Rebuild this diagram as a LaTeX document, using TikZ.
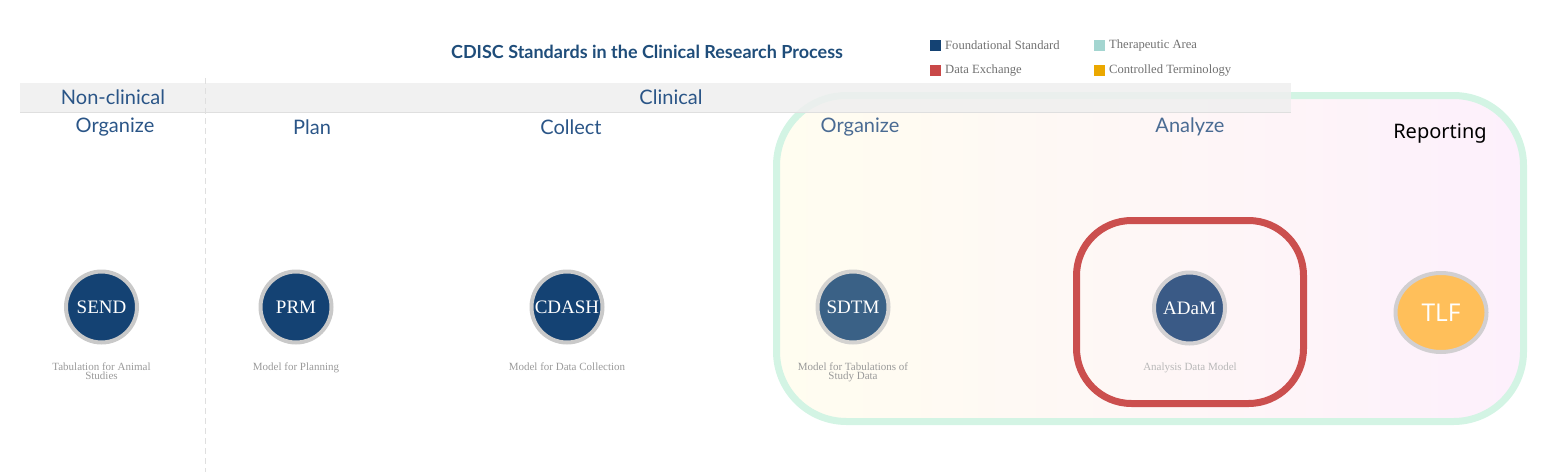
\documentclass[tikz,border=0pt]{standalone}
\usepackage{fontspec}
\setmainfont{Liberation Serif}
\newfontfamily\latofont{Lato}
\newfontfamily\notofont{Noto Sans}
\newfontfamily\opensansfont{Open Sans}
\usetikzlibrary{shapes.geometric}
\definecolor{titleblue}{HTML}{1F4D7A}
\definecolor{phaseblue}{HTML}{2A5587}
\definecolor{phaseblueL}{HTML}{4A6B93}
\definecolor{fblue}{HTML}{144273}
\definecolor{tealc}{HTML}{A3D5D0}
\definecolor{redc}{HTML}{C94848}
\definecolor{orangec}{HTML}{EBA800}
\definecolor{bandgray}{HTML}{EFEFEF}
\definecolor{mintc}{HTML}{D3F4E4}
\definecolor{redbox}{HTML}{CB4F4E}
\definecolor{ringgray}{HTML}{C9C9C9}
\definecolor{descgray}{HTML}{9A9A9A}
\definecolor{legendgray}{HTML}{707070}
\definecolor{sdtmblue}{HTML}{3A6186}
\definecolor{adamblue}{HTML}{3A5A86}
\definecolor{tlforange}{HTML}{FFBF5A}
\definecolor{yellowish}{HTML}{FFFDF0}
\definecolor{pinkish}{HTML}{FDF0FC}
\begin{document}
\begin{tikzpicture}[x=1pt,y=-1pt,
  stdcircle/.style={circle,draw=ringgray,line width=4pt,minimum size=71pt,inner sep=0pt,
    text=white,font=\fontsize{19}{22}\selectfont},
  desc/.style={align=center,text=descgray,font=\fontsize{11}{9}\selectfont},
  phase/.style={text=phaseblue,font=\latofont\fontsize{20}{24}\selectfont},
  legsq/.style={minimum size=12pt,inner sep=0pt,draw=white,line width=0.5pt},
  legtxt/.style={anchor=west,text=legendgray,font=\fontsize{12.6}{14}\selectfont,inner sep=0pt}
]
\useasboundingbox (0,0) rectangle (1544,472);
% reporting area
\path[left color=yellowish,right color=pinkish,rounded corners=70pt]
  (776.5,95.5) rectangle (1523.5,421.5);
\draw[mintc,line width=7pt,rounded corners=70pt] (776.5,95.5) rectangle (1523.5,421.5);
% band
\fill[bandgray,opacity=0.85] (20,83) rectangle (1291,112);
\draw[gray!25,line width=0.8pt] (20,112.5) -- (1291,112.5);
\coordinate (dtop) at (205,78);
\coordinate (dbot) at (205,472);
\draw[gray!25,dashed,dash pattern=on 6pt off 4pt,line width=1pt] (dtop) -- (dbot);
% title
\node[text=titleblue,font=\latofont\bfseries\fontsize{18}{22}\selectfont] (title) at (647,52) {CDISC Standards in the Clinical Research Process};
% legend
\node[legsq,fill=fblue] (l1) at (935,45) {};
\node[legtxt] (l1t) at (945,45) {Foundational Standard};
\node[legsq,fill=tealc] (l2) at (1099,45) {};
\node[legtxt] (l2t) at (1109,45) {Therapeutic Area};
\node[legsq,fill=redc] (l3) at (935,70) {};
\node[legtxt] (l3t) at (945,70) {Data Exchange};
\node[legsq,fill=orangec] (l4) at (1099,70) {};
\node[legtxt] (l4t) at (1109,70) {Controlled Terminology};
% band labels
\node[phase] (nonclin) at (113,97) {Non-clinical};
\node[phase] (clin) at (671,97) {Clinical};
% phase labels
\node[phase] (p1) at (115,127) {Organize};
\node[phase] (p2) at (312,127) {Plan};
\node[phase] (p3) at (571,127) {Collect};
\node[phase,text=phaseblueL] (p4) at (860,127) {Organize};
\node[phase,text=phaseblueL] (p5) at (1190,127) {Analyze};
\node[font=\notofont\fontsize{20}{24}\selectfont] (rep) at (1440,134) {Reporting};
% red box
\draw[redbox,line width=7pt,rounded corners=55pt] (1076.5,220.5) rectangle (1303.5,403.5);
% circles
\node[stdcircle,fill=fblue] (send) at (101.5,307) {SEND};
\node[stdcircle,fill=fblue] (prm) at (296,307) {PRM};
\node[stdcircle,fill=fblue] (cdash) at (567,307) {CDASH};
\node[stdcircle,fill=sdtmblue,draw=ringgray!80!yellowish] (sdtm) at (853,307) {SDTM};
\node[stdcircle,fill=adamblue,draw=ringgray!80!pinkish] (adam) at (1189.5,308) {ADaM};
\node[ellipse,draw=ringgray!85!pinkish,fill=tlforange,line width=4pt,minimum width=91pt,minimum height=79pt,inner sep=0pt,
  text=white,font=\opensansfont\fontsize{24.5}{28}\selectfont] (tlf) at (1441,312.5) {TLF};
% descriptions
\node[desc,anchor=north] (d1) at (101.5,359) {Tabulation for Animal\\Studies};
\node[desc,anchor=north] (d2) at (296,359) {Model for Planning};
\node[desc,anchor=north] (d3) at (567,359) {Model for Data Collection};
\node[desc,anchor=north] (d4) at (853,359) {Model for Tabulations of\\Study Data};
\node[desc,anchor=north,text=descgray!70] (d5) at (1190,359) {Analysis Data Model};
\end{tikzpicture}
\end{document}
